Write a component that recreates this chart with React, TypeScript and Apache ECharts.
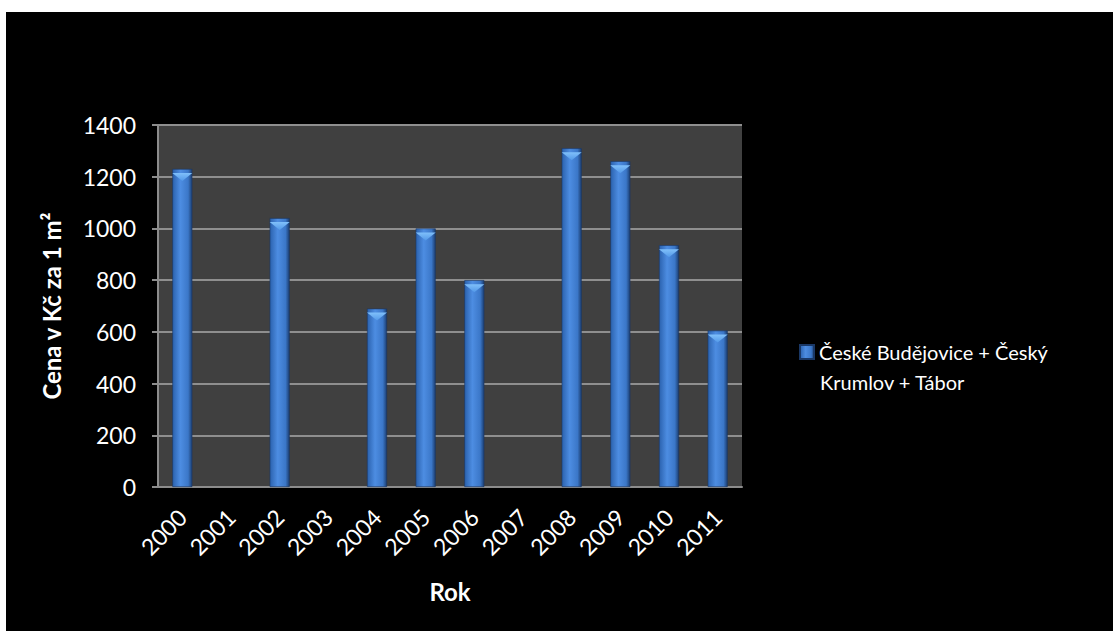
import { useEffect, useRef } from 'react';
import * as echarts from 'echarts';

// Average price of building land per year
const YEARS = ['2000', '2001', '2002', '2003', '2004', '2005', '2006', '2007', '2008', '2009', '2010', '2011'];
const PRICES: (number | null)[] = [1230, null, 1040, null, 690, 1000, 800, null, 1310, 1260, 935, 605];
const LEGEND_LINES = ['České Budějovice + Český', 'Krumlov + Tábor'];
const SERIES_NAME = LEGEND_LINES.join(' ');
const Y_MIN = 0;
const Y_MAX = 1400;
const Y_STEP = 200;
const Y_TITLE = 'Cena v Kč za 1 m²';
const X_TITLE = 'Rok';

const FONT = 'Lato, "Open Sans", sans-serif';

export default function App() {
  const ref = useRef<HTMLDivElement>(null);

  useEffect(() => {
    if (!ref.current) return;
    const chart = echarts.init(ref.current, null, { renderer: 'svg' });

    const barFill = new echarts.graphic.LinearGradient(0, 0, 1, 0, [
      { offset: 0, color: '#2b62ae' },
      { offset: 0.4, color: '#4d8de2' },
      { offset: 0.8, color: '#3b77c8' },
      { offset: 1, color: '#1c3f72' },
    ]);
    const capFill = new echarts.graphic.LinearGradient(0, 0, 0, 1, [
      { offset: 0, color: '#80c0fa' },
      { offset: 1, color: '#5298e8' },
    ]);

    chart.setOption({
      animation: false,
      backgroundColor: '#000000',
      textStyle: { fontFamily: FONT, color: '#ffffff' },
      grid: {
        left: 152,
        top: 113,
        width: 584,
        height: 362,
        show: true,
        backgroundColor: '#404040',
        borderWidth: 0,
        containLabel: false,
      },
      legend: {
        show: true,
        left: 793,
        top: 330,
        padding: 0,
        itemWidth: 14,
        itemHeight: 14,
        icon: 'rect',
        data: [SERIES_NAME],
        // first line sits beside the key; the wrapped line is a separate text below
        formatter: () => LEGEND_LINES[0],
        textStyle: {
          color: '#ffffff',
          fontFamily: FONT,
          fontSize: 20,
        },
      },
      graphic: [
        {
          type: 'text',
          left: 814,
          top: 360,
          silent: true,
          style: {
            text: LEGEND_LINES[1],
            fill: '#ffffff',
            font: `20px ${FONT}`,
          },
        },
      ],
      xAxis: {
        type: 'category',
        data: YEARS,
        boundaryGap: true,
        name: X_TITLE,
        nameLocation: 'middle',
        nameGap: 92,
        nameTextStyle: { color: '#ffffff', fontFamily: FONT, fontSize: 24, fontWeight: 'bold' },
        axisLine: { show: true, lineStyle: { color: '#8c8c8c', width: 2 } },
        axisTick: { show: false },
        axisLabel: {
          color: '#ffffff',
          fontFamily: FONT,
          fontSize: 23,
          rotate: 45,
          margin: 26,
          interval: 0,
        },
        splitLine: { show: false },
      },
      yAxis: {
        type: 'value',
        min: Y_MIN,
        max: Y_MAX,
        interval: Y_STEP,
        name: Y_TITLE,
        nameLocation: 'middle',
        nameRotate: 90,
        nameGap: 95,
        nameTextStyle: { color: '#ffffff', fontFamily: FONT, fontSize: 24, fontWeight: 'bold' },
        axisLine: { show: true, lineStyle: { color: '#8c8c8c', width: 2 } },
        axisTick: { show: true, inside: false, length: 6, lineStyle: { color: '#8c8c8c', width: 2 } },
        axisLabel: {
          color: '#ffffff',
          fontFamily: FONT,
          fontSize: 23,
          margin: 22,
          formatter: (v: number) => String(v),
        },
        splitLine: { show: true, lineStyle: { color: '#8f8f8f', width: 2 } },
      },
      series: [
        {
          name: SERIES_NAME,
          type: 'bar',
          data: PRICES,
          barWidth: 20,
          itemStyle: { color: barFill, borderColor: '#1a3866', borderWidth: 0.6 },
          z: 2,
        },
        {
          name: 'cap',
          type: 'pictorialBar',
          data: PRICES,
          symbol: 'path://M0,0 L20,0 L10,8 Z',
          symbolSize: [20, 8],
          symbolPosition: 'end',
          symbolOffset: [0, '50%'],
          itemStyle: { color: capFill },
          z: 3,
          silent: true,
        },
      ],
    });

    return () => chart.dispose();
  }, []);

  return (
    <div style={{ position: 'fixed', left: 0, top: 0, width: 1113, height: 631, background: '#ffffff' }}>
      <div ref={ref} style={{ position: 'absolute', left: 6, top: 12, width: 1107, height: 619 }} />
    </div>
  );
}
